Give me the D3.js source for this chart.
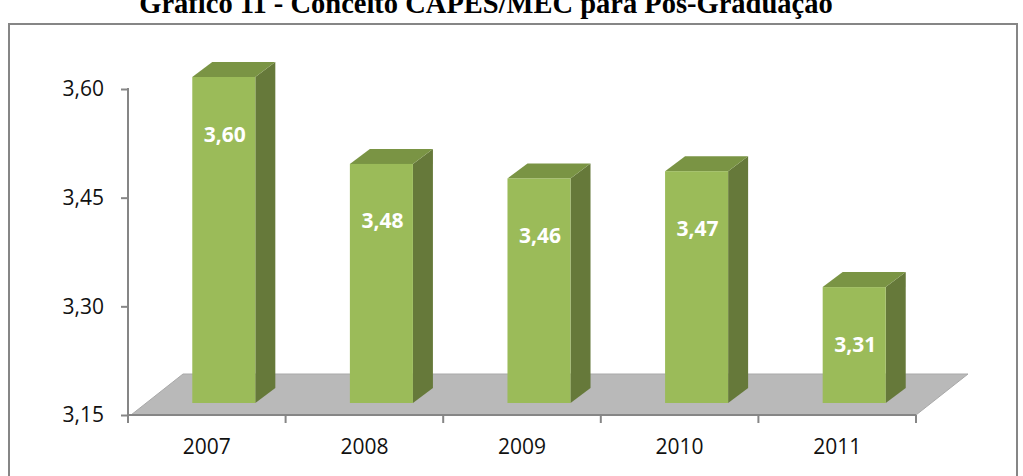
<!DOCTYPE html>
<html>
<head>
<meta charset="utf-8">
<script src="https://cdn.jsdelivr.net/npm/d3@7"></script>
<style>
  html, body { margin: 0; padding: 0; background: #fff; }
  svg { display: block; }
</style>
</head>
<body>
<svg id="chart" width="1023" height="476"></svg>
<script>
// Conceito CAPES/MEC médio por ano
const years = ["2007", "2008", "2009", "2010", "2011"];
const values = [3.60, 3.48, 3.46, 3.47, 3.31];
const yTicks = [3.15, 3.30, 3.45, 3.60];
const valueLabels = ["3,60", "3,48", "3,46", "3,47", "3,31"];
const titleText = "Gráfico 11 - Conceito CAPES/MEC para Pós-Graduação";

const svg = d3.select("#chart");
const fmt = d => d.toFixed(2).replace(".", ",");

// frame around the chart
svg.append("rect")
  .attr("x", 9).attr("y", 24).attr("width", 1008).attr("height", 470)
  .attr("fill", "none").attr("stroke", "#868686").attr("stroke-width", 2);

svg.append("text")
  .attr("x", 486).attr("y", 13)
  .attr("text-anchor", "middle")
  .attr("font-family", "'Liberation Serif', 'Times New Roman', serif")
  .attr("font-weight", "bold")
  .attr("font-size", 28.5)
  .attr("fill", "#000")
  .text(titleText);

const x = d3.scaleBand().domain(years).range([128, 916]).padding(0);
const y = d3.scaleLinear().domain([3.15, 3.60]).range([415, 89]);

// oblique depth offsets
const floorDepth = { dx: 52, dy: -41 };
const barFront = { dx: 17, dy: -12 };
const barDepth = { dx: 20, dy: -15 };
const barW = x.bandwidth() * 0.4;

// floor
const y0 = y(3.15);
const fx0 = x.range()[0] + 3, fx1 = x.range()[1];
svg.append("path")
  .attr("d", d3.line()([
    [fx0, y0], [fx1, y0],
    [fx1 + floorDepth.dx, y0 + floorDepth.dy],
    [fx0 + floorDepth.dx, y0 + floorDepth.dy]
  ]) + "Z")
  .attr("fill", "#b9b9b9")
  .attr("stroke", "#a9a9a9").attr("stroke-width", 1);

// bars
const bars = svg.append("g").selectAll("g")
  .data(years.map((yr, i) => ({ yr, v: values[i], label: valueLabels[i] })))
  .join("g");

bars.each(function(d) {
  const g = d3.select(this);
  const cx = x(d.yr) + x.bandwidth() / 2 + barFront.dx;
  const xl = cx - barW / 2, xr = cx + barW / 2;
  const yt = y(d.v) + barFront.dy, yb = y0 + barFront.dy;
  const dx = barDepth.dx, dy = barDepth.dy;
  // side face
  g.append("path")
    .attr("d", d3.line()([[xr, yt], [xr + dx, yt + dy], [xr + dx, yb + dy], [xr, yb]]) + "Z")
    .attr("fill", "#66793a");
  // top face
  g.append("path")
    .attr("d", d3.line()([[xl, yt], [xr, yt], [xr + dx, yt + dy], [xl + dx, yt + dy]]) + "Z")
    .attr("fill", "#7a9444");
  // front face
  g.append("rect")
    .attr("x", xl).attr("y", yt).attr("width", barW).attr("height", yb - yt)
    .attr("fill", "#9bbb59");
  // value label
  g.append("text")
    .attr("x", cx + 1)
    .attr("y", y(d.v) + 45)
    .attr("dy", "0.36em")
    .attr("text-anchor", "middle")
    .attr("font-family", "'Open Sans', Lato, sans-serif")
    .attr("font-weight", "bold")
    .attr("font-size", 21)
    .attr("fill", "#fff")
    .text(fmt(d.v));
});

// value axis
const yAxis = svg.append("g")
  .attr("transform", `translate(${x.range()[0]},0)`)
  .call(d3.axisLeft(y).tickValues(yTicks).tickSize(7).tickPadding(17).tickFormat(fmt));
yAxis.select(".domain").attr("stroke", "#868686").attr("stroke-width", 2)
  .attr("d", `M0,${y(3.60) - 1}V${y0}`);
yAxis.selectAll(".tick line").attr("stroke", "#868686").attr("stroke-width", 2);
yAxis.selectAll(".tick text")
  .attr("font-family", "'Open Sans', sans-serif")
  .attr("font-size", 21)
  .attr("fill", "#111");

// category axis
const xAxis = svg.append("g")
  .attr("transform", `translate(0,${y0})`)
  .call(d3.axisBottom(x).tickSize(0).tickPadding(24));
xAxis.select(".domain").attr("stroke", "#868686").attr("stroke-width", 2)
  .attr("d", `M${x.range()[0]},0H${x.range()[1]}`);
xAxis.selectAll(".tick text")
  .attr("font-family", "'Open Sans', sans-serif")
  .attr("font-size", 21)
  .attr("fill", "#111");
// boundary ticks between categories
xAxis.selectAll("line.sep")
  .data(years.map(yr => x(yr)).concat([x.range()[1]]))
  .join("line")
  .attr("class", "sep")
  .attr("x1", d => d).attr("x2", d => d)
  .attr("y1", 0).attr("y2", 8)
  .attr("stroke", "#868686").attr("stroke-width", 2);
</script>
</body>
</html>
